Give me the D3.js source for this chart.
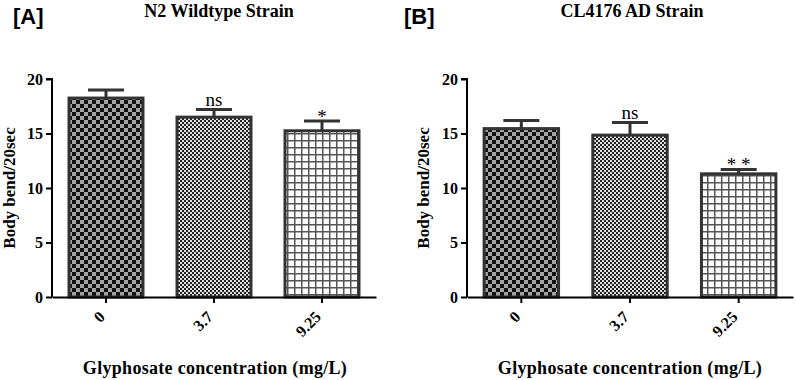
<!DOCTYPE html>
<html>
<head>
<meta charset="utf-8">
<script src="https://cdn.jsdelivr.net/npm/d3@7"></script>
<style>
  body { margin: 0; background: #fff; }
  text { font-family: "Liberation Serif", "Times New Roman", serif; font-weight: bold; }
</style>
</head>
<body>
<div id="canvas"></div>
<script>
const concentrations = ["0", "3.7", "9.25"];
const wildtypeMeans = [18.25, 16.5, 15.25];
const wildtypeErrors = [0.75, 0.7, 0.9];
const wildtypeSig = ["", "ns", "*"];
const adMeans = [15.45, 14.85, 11.3];
const adErrors = [0.75, 1.15, 0.4];
const adSig = ["", "ns", "* *"];
const yTicks = [0, 5, 10, 15, 20];
const patterns = ["checkBig", "checkSmall", "grid"];

const canvas = d3.select("#canvas");
const svg = canvas.append("svg").attr("width", 796).attr("height", 380);

const defs = svg.append("defs");

// coarse checkerboard
let p = defs.append("pattern").attr("id", "checkBig")
  .attr("patternUnits", "userSpaceOnUse").attr("width", 8).attr("height", 8);
p.append("rect").attr("width", 8).attr("height", 8).attr("fill", "#a3a3a3");
p.append("rect").attr("width", 4).attr("height", 4).attr("fill", "#111");
p.append("rect").attr("x", 4).attr("y", 4).attr("width", 4).attr("height", 4).attr("fill", "#111");

// fine checkerboard
p = defs.append("pattern").attr("id", "checkSmall")
  .attr("patternUnits", "userSpaceOnUse").attr("width", 4).attr("height", 4);
p.append("rect").attr("width", 4).attr("height", 4).attr("fill", "#e0e0e0");
p.append("rect").attr("width", 2).attr("height", 2).attr("fill", "#222");
p.append("rect").attr("x", 2).attr("y", 2).attr("width", 2).attr("height", 2).attr("fill", "#222");

// square grid
p = defs.append("pattern").attr("id", "grid")
  .attr("patternUnits", "userSpaceOnUse").attr("width", 7).attr("height", 7);
p.append("rect").attr("width", 7).attr("height", 7).attr("fill", "#fff");
p.append("path").attr("d", "M0,0.75H7M0.75,0V7").attr("stroke", "#555").attr("stroke-width", 1.5);

const drawPanel = (opts) => {
  const { left, right, letter, letterX, title, titleX, labelX, means, errors, sig } = opts;
  const top = 79, bottom = 297;

  const x = d3.scaleBand().domain(concentrations).range([left, right])
    .paddingInner(0.315).paddingOuter(0.1575);
  const y = d3.scaleLinear().domain([0, 20]).range([bottom, top]);

  const g = svg.append("g");

  g.append("text").attr("x", letterX).attr("y", 24)
    .style("font-family", "'Liberation Sans', Arial, sans-serif")
    .style("font-size", "22px").text(letter);

  g.append("text").attr("x", titleX).attr("y", 17).attr("text-anchor", "middle")
    .style("font-size", "18px").text(title);

  const data = concentrations.map((c, i) => ({ c, m: means[i], e: errors[i], s: sig[i], pat: patterns[i] }));
  const cx = (d) => x(d.c) + x.bandwidth() / 2;

  // error bars
  const eb = g.selectAll(".err").data(data).enter().append("g");
  eb.append("line")
    .attr("x1", cx).attr("x2", cx)
    .attr("y1", (d) => y(d.m)).attr("y2", (d) => y(d.m + d.e))
    .attr("stroke", "#333").attr("stroke-width", 3);
  eb.append("line")
    .attr("x1", (d) => cx(d) - 18).attr("x2", (d) => cx(d) + 18)
    .attr("y1", (d) => y(d.m + d.e)).attr("y2", (d) => y(d.m + d.e))
    .attr("stroke", "#333").attr("stroke-width", 3);

  g.selectAll(".bar").data(data).enter().append("rect")
    .attr("x", (d) => x(d.c)).attr("width", x.bandwidth())
    .attr("y", (d) => y(d.m)).attr("height", (d) => y(0) - y(d.m))
    .attr("fill", (d) => `url(#${d.pat})`)
    .attr("stroke", "#333").attr("stroke-width", 3);

  // significance marks; asterisks sit high in the glyph box
  g.selectAll(".sig").data(data).enter().append("text")
    .attr("x", cx)
    .attr("y", (d) => y(d.m + d.e) + (d.s === "ns" ? -3.5 : 2))
    .attr("text-anchor", "middle")
    .style("font-weight", "normal").style("font-size", "19px")
    .text((d) => d.s);

  const yAxis = g.append("g").attr("transform", `translate(${left},0)`)
    .call(d3.axisLeft(y).tickValues(yTicks).tickSize(6).tickPadding(3));
  const xAxis = g.append("g").attr("transform", `translate(0,${bottom})`)
    .call(d3.axisBottom(x).tickSize(6).tickSizeOuter(0));

  [yAxis, xAxis].forEach((a) => {
    a.attr("font-family", null);
    a.select(".domain").attr("stroke", "#000").attr("stroke-width", 2);
    a.selectAll(".tick line").attr("stroke", "#000").attr("stroke-width", 2);
    a.selectAll("text").style("font-family", "'Liberation Serif', serif")
      .style("font-weight", "bold").style("font-size", "16px").attr("fill", "#000");
  });
  yAxis.select(".domain").attr("d", `M-6,${top}H0V${bottom}`);

  xAxis.selectAll(".tick text")
    .attr("text-anchor", "end").attr("dy", "0.35em").attr("y", 0)
    .attr("transform", "translate(-4,17) rotate(-45)");

  g.append("text")
    .attr("transform", `translate(${labelX},${(top + bottom) / 2}) rotate(-90)`)
    .attr("text-anchor", "middle").style("font-size", "17px")
    .text("Body bend/20sec");

  g.append("text").attr("x", (left + right) / 2 + (letter === "[A]" ? 1 : 0)).attr("y", 374)
    .attr("text-anchor", "middle").style("font-size", "18px").style("letter-spacing", "0.3px")
    .text("Glyphosate concentration (mg/L)");
};

drawPanel({ left: 52, right: 376, letter: "[A]", letterX: 13, title: "N2 Wildtype Strain", titleX: 219,
  labelX: 15, means: wildtypeMeans, errors: wildtypeErrors, sig: wildtypeSig });
drawPanel({ left: 467, right: 793, letter: "[B]", letterX: 404, title: "CL4176 AD Strain", titleX: 632,
  labelX: 429, means: adMeans, errors: adErrors, sig: adSig });
</script>
</body>
</html>
